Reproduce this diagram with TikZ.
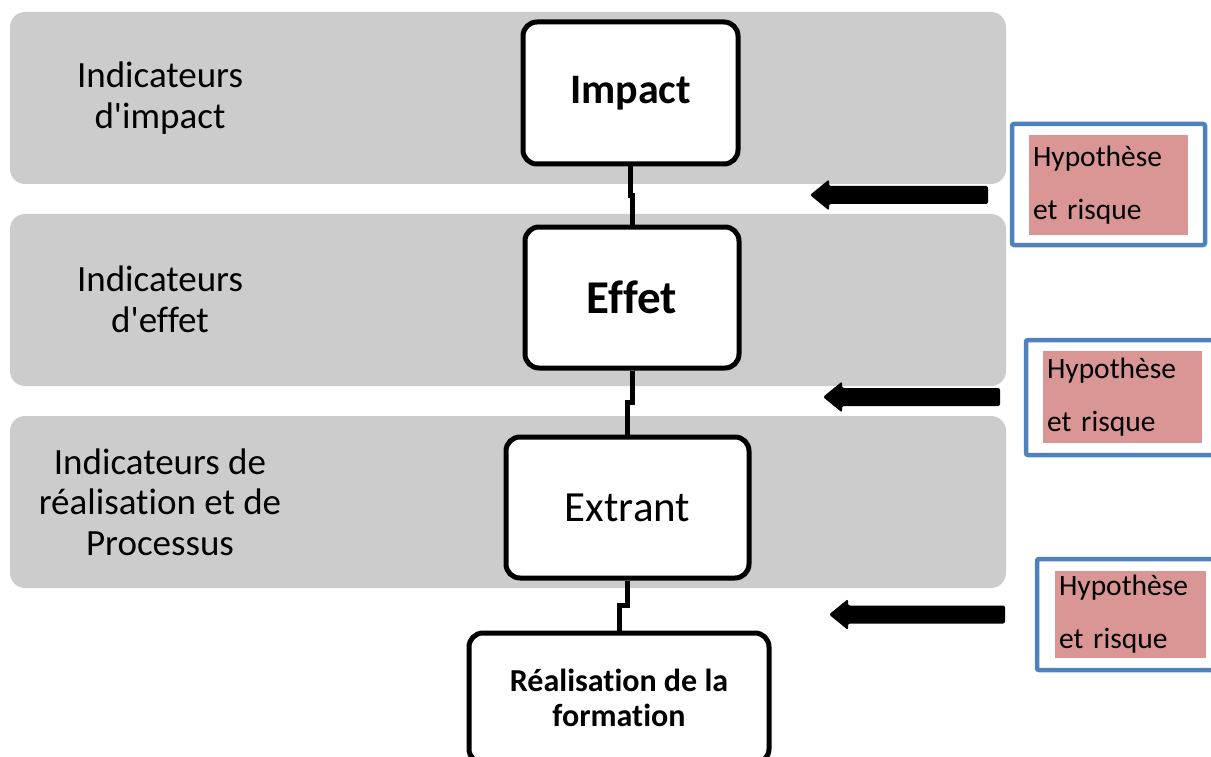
\documentclass[tikz,border=0pt]{standalone}
\usepackage{fontspec}
\setmainfont{Carlito}[Ligatures={NoCommon}]
\usetikzlibrary{calc}
\definecolor{bandgray}{HTML}{CCCCCC}
\definecolor{frameblue}{HTML}{4F81BD}
\definecolor{riskpink}{HTML}{D99694}
% block arrow from #1 (tail) to #2 (tip), pointing left
\newcommand\hypArrow[2]{%
  \fill[arrowfill] ($(#1)+(0,-9)$) -- ($(#2)+(19,-9)$) -- ($(#2)+(19,-15.5)$) -- (#2)
    -- ($(#2)+(19,15.5)$) -- ($(#2)+(19,9)$) -- ($(#1)+(0,9)$) -- cycle;}
\begin{document}
\begin{tikzpicture}[x=1pt,y=-1pt,
  band/.style={fill=bandgray, rounded corners=15pt, inner sep=0pt,
    minimum width=996pt, minimum height=172pt},
  bandlabel/.style={align=center, inner sep=0pt, font=\fontsize{37}{40.5}\selectfont},
  stage/.style={draw=black, line width=5pt, fill=white, rounded corners=14pt,
    align=center, inner sep=0pt},
  link/.style={draw=black, line width=5pt},
  hypframe/.style={draw=frameblue, line width=4.5pt, fill=white, rounded corners=2pt,
    minimum width=193pt, inner sep=0pt},
  hyptext/.style={fill=riskpink, inner xsep=4pt, inner ysep=0pt, align=left,
    font=\fontsize{29.5}{53}\selectfont},
  arrowfill/.style={fill=black, rounded corners=2pt}]
\useasboundingbox (0,0) rectangle (1211,757);
\clip (0,0) rectangle (1211,757);

% indicator bands
\node[band] (band1) at (508,98) {};
\node[band] (band2) at (508,300) {};
\node[band] (band3) at (508,502) {};
\node[bandlabel] (lab1) at (160,98) {Indicateurs\\d\textquotesingle impact};
\node[bandlabel] (lab2) at (160,299.5) {Indicateurs\\d\textquotesingle effet};
\node[bandlabel] (lab3) at (160,502) {Indicateurs de\\réalisation et de\\Processus};

% result chain
\node[stage, minimum width=215pt, minimum height=142pt, font=\bfseries\fontsize{42}{50}\selectfont]
  (impact) at (630.5,93) {\raisebox{-3pt}{Impact}};
\node[stage, minimum width=214pt, minimum height=141pt, font=\bfseries\fontsize{47}{56}\selectfont]
  (effet) at (632,297.5) {Effet};
\node[stage, minimum width=243pt, minimum height=141pt, font=\fontsize{43}{51}\selectfont]
  (extrant) at (627.5,507.5) {Extrant};
\node[stage, minimum width=300pt, minimum height=130pt, font=\bfseries\fontsize{32}{35}\selectfont]
  (real) at (619,698) {Réalisation de la\\formation};

\draw[link] (impact.south) |- ($(impact.south)!0.5!(effet.north)$) -| (effet.north);
\draw[link] (effet.south) |- ($(effet.south)!0.5!(extrant.north)$) -| (extrant.north);
\draw[link] (extrant.south) |- ($(extrant.south)!0.5!(real.north)$) -| (real.north);

% hypotheses and risks
\node[hypframe, minimum height=121pt] (hyp1) at (1108.5,184.5) {};
\node[hyptext, minimum height=100pt, text width=151pt] (risk1) at (1108.5,185) {Hypothèse\\et risque};
\node[hypframe, minimum height=115pt] (hyp2) at (1122.5,397.5) {};
\node[hyptext, minimum height=92pt, text width=151pt] (risk2) at (1122.5,397) {Hypothèse\\et risque};
\node[hypframe, minimum height=111pt] (hyp3) at (1133.5,614.5) {};
\node[hyptext, minimum height=87pt, text width=143pt] (risk3) at (1130.5,614.5) {Hypothèse\\et risque};

\coordinate (a1s) at (988,195);   \coordinate (a1e) at (810,195);
\coordinate (a2s) at (1000,397);  \coordinate (a2e) at (823,397);
\coordinate (a3s) at (1005,614.5);\coordinate (a3e) at (829,614.5);
\hypArrow{a1s}{a1e}
\hypArrow{a2s}{a2e}
\hypArrow{a3s}{a3e}
\end{tikzpicture}
\end{document}
